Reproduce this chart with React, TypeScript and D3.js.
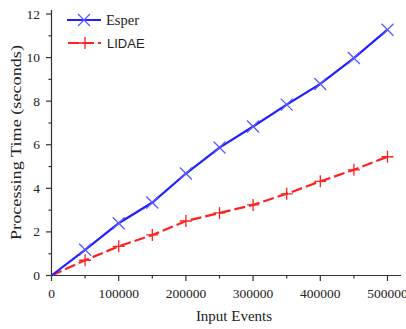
import React from "react";
import * as d3 from "d3";

const xValues = [0, 50000, 100000, 150000, 200000, 250000, 300000, 350000, 400000, 450000, 500000];
const esper = [0, 1.18, 2.4, 3.35, 4.68, 5.87, 6.84, 7.84, 8.79, 9.98, 11.28];
const lidae = [0, 0.7, 1.34, 1.86, 2.5, 2.87, 3.24, 3.75, 4.32, 4.85, 5.45];
const xTicks = [0, 100000, 200000, 300000, 400000, 500000];
const xMinor = [50000, 150000, 250000, 350000, 450000];
const yTicks = [0, 2, 4, 6, 8, 10, 12];
const yMinor = [1, 3, 5, 7, 9, 11];

export default function App() {
  const W = 406, H = 329;
  const x = d3.scaleLinear().domain([0, 500000]).range([51.5, 387.5]);
  const y = d3.scaleLinear().domain([0, 12]).range([275.5, 14]);
  const line = d3.line<number>().x((_, i) => x(xValues[i])).y((d) => y(d));
  const serif = "'Liberation Serif', 'Times New Roman', serif";
  const sans = "'Liberation Sans', Arial, sans-serif";
  const blue = "#1f1fff";
  const blueM = "#5a5aff";
  const red = "#ff2020";
  const xMark = (cx: number, cy: number, s: number, key: any) => (
    <path key={key} d={`M${cx - s},${cy - s}L${cx + s},${cy + s}M${cx - s},${cy + s}L${cx + s},${cy - s}`} stroke={blueM} strokeWidth={1.3} fill="none" />
  );
  const plus = (cx: number, cy: number, s: number, key: any) => (
    <path key={key} d={`M${cx - s},${cy}L${cx + s},${cy}M${cx},${cy - s}L${cx},${cy + s}`} stroke={red} strokeWidth={1.3} fill="none" />
  );
  return (
    <svg width={W} height={H} style={{ position: "absolute", left: 0, top: 0, background: "#fff" }}>
      {/* axes */}
      <line x1={51.5} x2={51.5} y1={10} y2={275.5} stroke="#333" strokeWidth={1.2} />
      <line x1={51.5} x2={401} y1={275.5} y2={275.5} stroke="#333" strokeWidth={1.2} />
      {yTicks.map((t) => (
        <g key={"yt" + t}>
          <line x1={46} x2={51.5} y1={y(t)} y2={y(t)} stroke="#333" strokeWidth={1.2} />
          <text x={40} y={y(t) + 4.5} textAnchor="end" fontFamily={serif} fontSize={13.5} fill="#222">{t}</text>
        </g>
      ))}
      {yMinor.map((t) => (
        <line key={"ym" + t} x1={48.5} x2={51.5} y1={y(t)} y2={y(t)} stroke="#333" strokeWidth={1.2} />
      ))}
      {xTicks.map((t) => (
        <g key={"xt" + t}>
          <line x1={x(t)} x2={x(t)} y1={275.5} y2={281} stroke="#333" strokeWidth={1.2} />
          <text x={x(t)} y={297.5} textAnchor="middle" fontFamily={serif} fontSize={13.5} fill="#222">{t}</text>
        </g>
      ))}
      {xMinor.map((t) => (
        <line key={"xm" + t} x1={x(t)} x2={x(t)} y1={275.5} y2={278.5} stroke="#333" strokeWidth={1.2} />
      ))}
      <text x={234} y={321} textAnchor="middle" fontFamily={serif} fontSize={15} fill="#222">Input Events</text>
      <text transform={`translate(21,142.5) rotate(-90)`} textAnchor="middle" fontFamily={serif} fontSize={15} fill="#222" textLength={195} lengthAdjust="spacingAndGlyphs">Processing Time (seconds)</text>
      {/* series */}
      <path d={line(lidae) || ""} stroke={red} strokeWidth={2.2} fill="none" strokeDasharray="11,4" />
      <path d={line(esper) || ""} stroke={blue} strokeWidth={2.2} fill="none" />
      {esper.slice(1).map((v, i) => xMark(x(xValues[i + 1]), y(v), 6, "e" + i))}
      {lidae.slice(1).map((v, i) => plus(x(xValues[i + 1]), y(v), 6, "l" + i))}
      {/* legend */}
      <line x1={67} x2={101} y1={20} y2={20} stroke={blue} strokeWidth={2.2} />
      {xMark(84, 20, 6, "lgE")}
      <text x={106} y={25} fontFamily={serif} fontSize={14.5} fill="#222">Esper</text>
      <line x1={68} x2={101} y1={43} y2={43} stroke={red} strokeWidth={2.2} strokeDasharray="11,4" />
      {plus(85, 43, 6, "lgL")}
      <text x={107} y={48} fontFamily={sans} fontSize={13} fill="#222">LIDAE</text>
    </svg>
  );
}
